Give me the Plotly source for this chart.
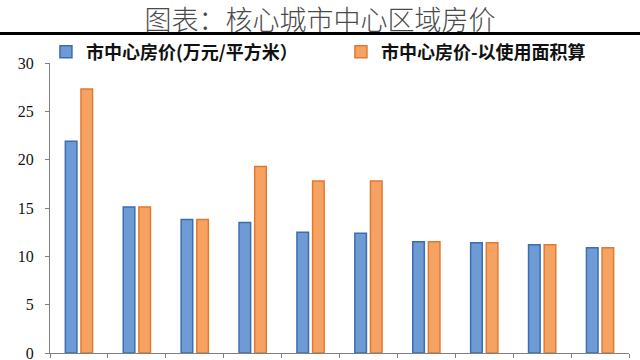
import plotly.graph_objects as go

categories = ["城市1", "城市2", "城市3", "城市4", "城市5", "城市6", "城市7", "城市8", "城市9", "城市10"]
price_center = [21.9, 15.1, 13.8, 13.5, 12.5, 12.4, 11.5, 11.4, 11.2, 10.9]
price_usable = [27.3, 15.1, 13.8, 19.3, 17.8, 17.8, 11.5, 11.4, 11.2, 10.9]
series_names = ["市中心房价(万元/平方米）", "市中心房价-以使用面积算"]
y_ticks = [0, 5, 10, 15, 20, 25, 30]

fig = go.Figure()
fig.add_trace(go.Bar(
    x=categories, y=price_center, name=series_names[0],
    marker=dict(color="#6F9BD4", line=dict(color="#3A6DB2", width=1.5)),
))
fig.add_trace(go.Bar(
    x=categories, y=price_usable, name=series_names[1],
    marker=dict(color="#F6A262", line=dict(color="#E07A30", width=1.5)),
))

fig.update_layout(
    width=640, height=360,
    margin=dict(l=50, r=11, t=63, b=7, autoexpand=False),
    paper_bgcolor="white", plot_bgcolor="white",
    barmode="group", bargap=0.46, bargroupgap=0.26,
    title=dict(
        text="图表：核心城市中心区域房价",
        x=0.5, xanchor="center", y=0.943, yanchor="middle",
        font=dict(family="Noto Sans CJK SC", size=27, color="#4a4a4a", weight=300),
        automargin=False,
    ),
    legend=dict(
        orientation="h", x=-0.007, xanchor="left", y=1.038, yanchor="middle",
        entrywidth=250, entrywidthmode="pixels",
        font=dict(family="Noto Sans CJK SC", size=18, color="#111111", weight="bold"),
        bgcolor="rgba(0,0,0,0)", itemwidth=30,
    ),
    showlegend=True,
    shapes=[dict(type="line", xref="paper", yref="paper", x0=-0.1, x1=1.1,
                 y0=1.102, y1=1.102, line=dict(color="black", width=3))],
    xaxis=dict(
        showticklabels=False, showline=True, linecolor="#808080", linewidth=1,
        ticks="outside", ticklen=4, tickcolor="#808080", tickson="boundaries",
        showgrid=False, automargin=False,
    ),
    yaxis=dict(
        range=[0, 30], tickvals=y_ticks, showline=True, linecolor="#808080",
        linewidth=1, ticks="outside", ticklen=4, tickcolor="#808080",
        showgrid=False, zeroline=False, automargin=False,
        ticklabeloverflow="allow", ticklabelstandoff=8,
        tickfont=dict(family="Liberation Serif", size=16, color="#111111"),
    ),
)

fig.write_html("out.html", config={"displayModeBar": False},
               post_script="document.body.style.margin='0';")
